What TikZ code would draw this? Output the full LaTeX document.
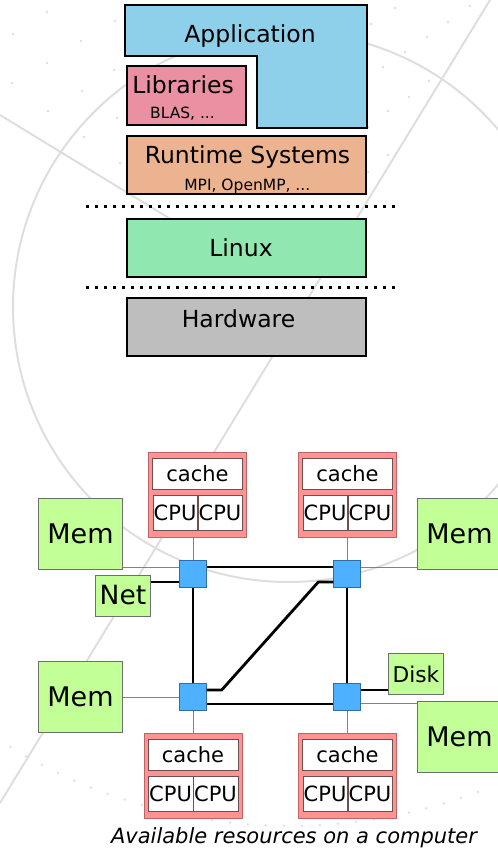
\documentclass[tikz,border=0pt]{standalone}
\usepackage{fontspec}
\setmainfont{DejaVu Sans}
\usetikzlibrary{positioning}

\definecolor{appblue}{RGB}{142,207,234}
\definecolor{libpink}{RGB}{235,143,162}
\definecolor{rtspeach}{RGB}{235,179,143}
\definecolor{osgreen}{RGB}{144,232,176}
\definecolor{hwgray}{RGB}{190,190,190}
\definecolor{chipred}{RGB}{255,146,146}
\definecolor{chipedge}{RGB}{190,100,100}
\definecolor{celledge}{RGB}{110,80,80}
\definecolor{resgreen}{RGB}{194,255,150}
\definecolor{resedge}{RGB}{110,110,110}
\definecolor{swblue}{RGB}{77,177,255}
\definecolor{swedge}{RGB}{50,110,165}
\definecolor{linkgray}{RGB}{130,130,130}
\definecolor{wmgray}{RGB}{222,222,222}

\begin{document}
\begin{tikzpicture}[x=1pt, y=-1pt,
  layer/.style={draw=black, line width=2pt, fill=#1, minimum width=239pt,
                minimum height=58pt, inner sep=0pt},
  big/.style={font=\fontsize{23.5}{28}\selectfont, anchor=base},
  small/.style={font=\fontsize{15.5}{18}\selectfont, anchor=base},
  sep/.style={line width=3pt, dash pattern=on 3pt off 6pt},
  chip/.style={draw=chipedge, fill=chipred, minimum width=98pt, minimum height=85pt, inner sep=0pt},
  cell/.style={draw=celledge, fill=white, inner sep=0pt, font=\fontsize{21}{24}\selectfont},
  mem/.style={draw=resedge, fill=resgreen, minimum width=84pt, minimum height=71pt,
              inner sep=0pt, font=\fontsize{27}{30}\selectfont},
  dev/.style={draw=resedge, fill=resgreen, minimum width=55pt, minimum height=41pt,
              inner sep=0pt, font=\fontsize{#1}{#1}\selectfont},
  switch/.style={draw=swedge, fill=swblue, minimum size=27pt, inner sep=0pt},
  bus/.style={line width=2.8pt},
  link/.style={draw=linkgray, line width=1pt}
]
\useasboundingbox (0,0) rectangle (498,849);

% faint backdrop: rings, a stroke and rows of dots
\begin{scope}[draw=wmgray, line width=2pt]
  \draw (288,307) circle[radius=275];
  \draw (490,0) -- (0,803);
  \draw (0,115) -- (200,237);
  \draw[line width=2.6pt, line cap=round, dash pattern=on 0pt off 18pt]
    ([shift={(121.5:535)}]290,291) arc[start angle=121.5, end angle=68.9, radius=535];
  \foreach \p in {(47,12),(13,34),(81,41),(115,21),(47,63),(12,83),(82,91),(114,70),
                  (48,111),(117,118),(84,137),(120,163),(395,8),(470,6),(371,24),
                  (448,22),(427,37),(405,52),(383,67),(429,81),(409,97),(388,111),
                  (388,155),(368,172),(368,127)}
    \fill[wmgray] \p circle[radius=1.4];
\end{scope}

% software stack
\draw[layer=appblue] (125,5) -| (367,128) -| (257,56) -| cycle;
\node[big] (app) at (250,42) {Application};
\node[layer=libpink, minimum width=119pt, minimum height=59pt] (lib) at (186.5,95.5) {};
\node[big] at (183,93) {Libraries};
\node[small] at (182.5,118) {BLAS, ...};
\node[layer=rtspeach] (rts) at (246.5,165) {};
\node[big] at (247.5,163) {Runtime Systems};
\node[small] at (247.3,190) {MPI, OpenMP, ...};
\node[layer=osgreen, below=23pt of rts] (linux) {};
\node[big] at (241,256) {Linux};
\node[layer=hwgray, below=19pt of linux] (hw) {};
\node[big] at (238.5,327) {Hardware};
\draw[sep] (86,206) -- (396,206);
\draw[sep] (86,287) -- (396,287);

% machine: four sockets around a small network
\node[switch] (swtl) at (193,574) {};
\node[switch] (swtr) at (347,574) {};
\node[switch] (swbl) at (193,697) {};
\node[switch] (swbr) at (347,697) {};
\foreach \where/\px/\py in {tl/197.5/495, tr/347.5/495, bl/193/776, br/347.5/776} {
  \node[chip] (chip\where) at (\px,\py) {};
  \node[cell, minimum width=90pt, minimum height=31pt] (cache\where)
    at ([yshift=21pt]chip\where.center) {cache};
  \node[cell, minimum width=44.5pt, minimum height=35pt, anchor=north east] (cpua\where)
    at ([yshift=-5pt]cache\where.south) {CPU};
  \node[cell, minimum width=44.5pt, minimum height=35pt, anchor=north west] (cpub\where)
    at ([yshift=-5pt]cache\where.south) {CPU};
}
\node[mem] (memtl) at (80.5,534) {Mem};
\node[mem] (memtr) at (459.5,534) {Mem};
\node[mem] (membl) at (80.5,697) {Mem};
\node[mem] (membr) at (459.5,736.5) {Mem};
\node[dev=26.5] (net) at (123,595.5) {Net};
\node[dev=21.7] (disk) at (416,674) {Disk};

\foreach \where in {tl,tr}
  \draw[link] (sw\where.north) -- (sw\where.north |- chip\where.south);
\foreach \where in {bl,br}
  \draw[link] (sw\where.south) -- (sw\where.south |- chip\where.north);
\draw[link] ([yshift=7pt]swtl.west) -- ([yshift=7pt]swtl.west -| memtl.east);
\draw[link] ([yshift=7pt]swtr.east) -- ([yshift=7pt]swtr.east -| memtr.west);
\draw[link] (swbl.west) -- (membl.east);
\draw[link] ([yshift=-6pt]swbr.east) -- ([yshift=-6pt]swbr.east -| membr.west);
\draw[bus] ([yshift=-8pt]swtl.west) -- ([yshift=-8pt]swtl.west -| net.east);
\draw[bus] ([yshift=7pt]swbr.east) -- ([yshift=7pt]swbr.east -| disk.west);
\draw[bus] ([yshift=7pt]swtl.east) -- ([yshift=7pt]swtr.west);
\draw[bus] ([yshift=-7pt]swbl.east) -- ([yshift=-7pt]swbr.west);
\draw[bus] (swtl.south) -- (swbl.north);
\draw[bus] (swtr.south) -- (swbr.north);
\draw[bus] ([yshift=7pt]swbl.east) -- ++(15,0)
  -- ([xshift=-15pt,yshift=-8pt]swtr.west) -- ([yshift=-8pt]swtr.west);

\node[font=\fontsize{21}{24}\selectfont\itshape, anchor=base] (caption) at (294,843)
  {Available resources on a computer};
\end{tikzpicture}
\end{document}
